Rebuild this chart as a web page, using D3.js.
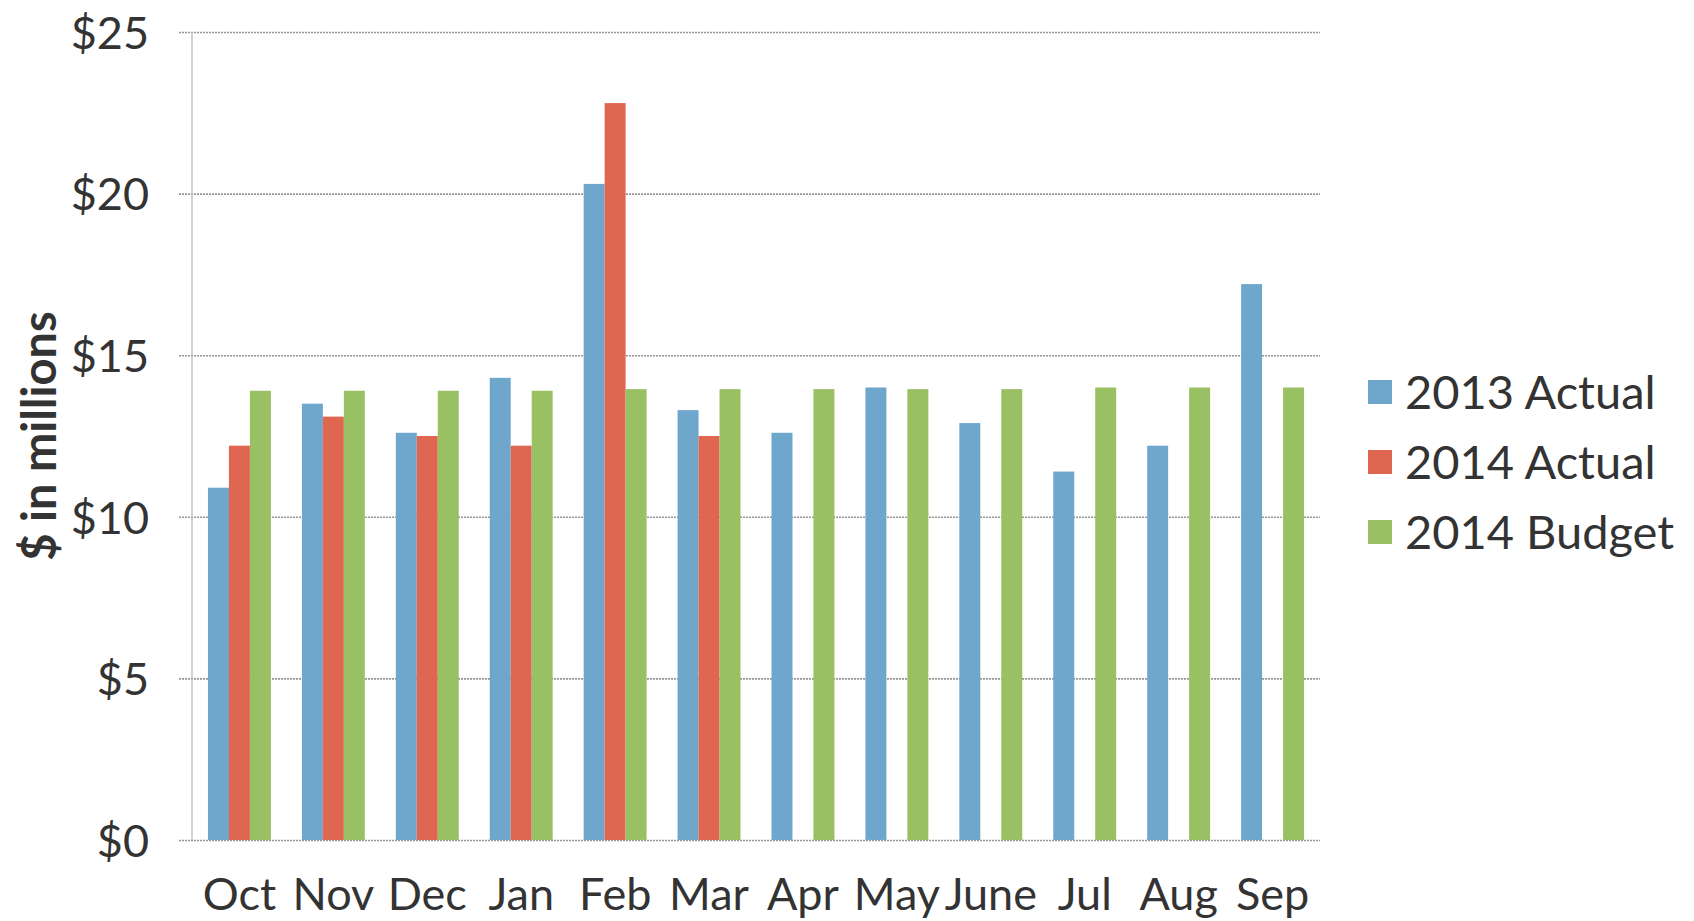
<!DOCTYPE html>
<html>
<head>
<meta charset="utf-8">
<script src="https://cdn.jsdelivr.net/npm/d3@7"></script>
<style>
  body { margin: 0; background: #fff; }
  text { font-family: "Lato", "Open Sans", sans-serif; fill: #333; }
</style>
</head>
<body>
<div id="chart"></div>
<script>
var width = 1694, height = 921;
var margin = {top: 32, right: 374, bottom: 81, left: 192};

// data ($ in millions)
var months = ["Oct", "Nov", "Dec", "Jan", "Feb", "Mar", "Apr", "May", "June", "Jul", "Aug", "Sep"];
var seriesNames = ["2013 Actual", "2014 Actual", "2014 Budget"];
var actual2013 = [10.9, 13.5, 12.6, 14.3, 20.3, 13.3, 12.6, 14.0, 12.9, 11.4, 12.2, 17.2];
var actual2014 = [12.2, 13.1, 12.5, 12.2, 22.8, 12.5, null, null, null, null, null, null];
var budget2014 = [13.9, 13.9, 13.9, 13.9, 13.95, 13.95, 13.95, 13.95, 13.95, 14.0, 14.0, 14.0];
var yTicks = [0, 5, 10, 15, 20, 25];

var color = d3.scaleOrdinal()
    .domain(seriesNames)
    .range(["#6fa6cc", "#df6650", "#99c062"]);

var series = [actual2013, actual2014, budget2014];

var svg = d3.select("#chart").append("svg")
    .attr("width", width)
    .attr("height", height);

var w = width - margin.left - margin.right,
    h = height - margin.top - margin.bottom;

var g = svg.append("g")
    .attr("transform", "translate(" + margin.left + "," + margin.top + ")");

var x = d3.scaleBand()
    .domain(months)
    .range([0, w])
    .paddingInner(0.33)
    .paddingOuter(0.17);

var x1 = d3.scaleBand()
    .domain(seriesNames)
    .range([0, x.bandwidth()]);

var y = d3.scaleLinear()
    .domain([0, 25])
    .range([h, 0]);

// gridlines + y tick labels
var yAxis = g.append("g")
    .call(d3.axisLeft(y)
        .tickValues(yTicks)
        .tickSize(-w - 13)
        .tickPadding(43)
        .tickFormat(function(d) { return "$" + d; }));
yAxis.select(".domain").remove();
yAxis.selectAll(".tick line")
    .attr("x1", -13)
    .attr("x2", w)
    .attr("stroke", "#959595")
    .attr("stroke-width", 1.6)
    .attr("stroke-dasharray", "2,1");
yAxis.selectAll(".tick text")
    .style("font-size", "45px")
    .attr("dy", "0.36em");

// vertical axis line
g.append("line")
    .attr("x1", 0).attr("x2", 0)
    .attr("y1", y(25)).attr("y2", y(0))
    .attr("stroke", "#b5b5b5")
    .attr("stroke-width", 1.2);

// bars
var groups = g.selectAll(".month")
    .data(months)
    .enter().append("g")
    .attr("class", "month")
    .attr("transform", function(d) { return "translate(" + x(d) + ",0)"; });

groups.selectAll("rect")
    .data(function(d, i) {
        return seriesNames.map(function(s, j) { return {key: s, value: series[j][i]}; })
            .filter(function(e) { return e.value != null; });
    })
    .enter().append("rect")
    .attr("x", function(d) { return x1(d.key); })
    .attr("y", function(d) { return y(d.value); })
    .attr("width", x1.bandwidth())
    .attr("height", function(d) { return h - y(d.value); })
    .attr("fill", function(d) { return color(d.key); });

// x labels
var xAxis = g.append("g")
    .attr("transform", "translate(0," + h + ")")
    .call(d3.axisBottom(x).tickSize(0).tickPadding(38));
xAxis.select(".domain").remove();
xAxis.selectAll(".tick text")
    .style("font-size", "45px");

// y axis title
svg.append("text")
    .attr("transform", "translate(56,436) rotate(-90)")
    .style("text-anchor", "middle")
    .style("font-size", "47px")
    .style("font-weight", "bold")
    .text("$ in millions");

// legend
var legend = svg.append("g")
    .selectAll("g")
    .data(seriesNames)
    .enter().append("g")
    .attr("transform", function(d, i) { return "translate(1368," + (380 + i * 70) + ")"; });

legend.append("rect")
    .attr("width", 24)
    .attr("height", 24)
    .attr("fill", color);

legend.append("text")
    .attr("x", 37)
    .attr("y", 12)
    .attr("dy", "0.36em")
    .style("font-size", "47px")
    .text(function(d) { return d; });
</script>
</body>
</html>
